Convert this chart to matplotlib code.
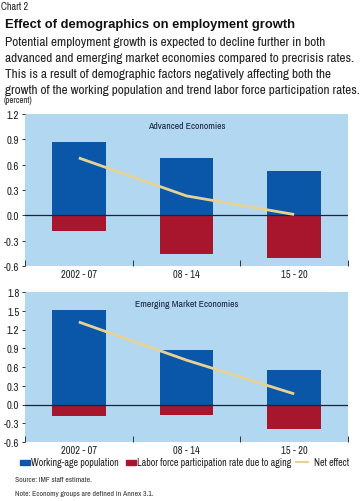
import matplotlib
matplotlib.use("Agg")
import matplotlib.pyplot as plt
from matplotlib.patches import Rectangle
from matplotlib.lines import Line2D
import numpy as np

BODY = ['Archivo Narrow', 'DejaVu Sans']
plt.rcParams['font.family'] = BODY

categories = ["2002 - 07", "08 - 14", "15 - 20"]
adv_working = [0.87, 0.68, 0.52]
adv_lfp = [-0.19, -0.46, -0.51]
adv_net = [0.68, 0.23, 0.01]
eme_working = [1.51, 0.87, 0.56]
eme_lfp = [-0.19, -0.16, -0.39]
eme_net = [1.32, 0.71, 0.17]
adv_yticks = [-0.6, -0.3, 0.0, 0.3, 0.6, 0.9, 1.2]
eme_yticks = [-0.6, -0.3, 0.0, 0.3, 0.6, 0.9, 1.2, 1.5, 1.8]

BG = "#b2d8f1"
BLUE = "#0a56a8"
RED = "#a8162e"
LINE = "#e6d394"
NAVY = "#1a2340"
TXT = "#222222"

W, H = 362, 502
fig = plt.figure(figsize=(W / 100, H / 100), dpi=100)
fig.patch.set_facecolor("white")

def px_axes(left, top, right, bottom):
    return fig.add_axes([left / W, 1 - bottom / H, (right - left) / W, (bottom - top) / H])

def panel(ax, working, lfp, net, yticks, title):
    x = np.arange(len(categories))
    ax.set_facecolor(BG)
    ax.bar(x, working, width=0.5, color=BLUE, zorder=2)
    ax.bar(x, lfp, width=0.5, color=RED, zorder=2)
    ax.axhline(0, color=NAVY, lw=0.9, zorder=3)
    ax.plot(x, net, color=LINE, lw=2.0, zorder=4, solid_capstyle="butt")
    ax.set_xlim(-0.5, 2.5)
    ax.set_ylim(yticks[0], yticks[-1])
    ax.set_yticks(yticks)
    ax.set_yticklabels([f"{t:.1f}" for t in yticks], fontsize=7.8, color=TXT)
    ax.set_xticks(x)
    ax.set_xticklabels(categories, fontsize=7.5, color=TXT)
    ax.tick_params(axis="x", length=0, pad=2.5)
    ax.set_xticks([-0.5, 0.5, 1.5, 2.5], minor=True)
    ax.tick_params(axis="x", which="minor", length=4, direction="in", color="#333333", width=0.7)
    ax.tick_params(axis="y", length=2.5, width=0.7, pad=1.5, color="#333333")
    for s in ax.spines.values():
        s.set_visible(False)
    ax.text(0.5, 0.955, title, transform=ax.transAxes, ha="center", va="top", fontsize=7, color="#1a2340")

ax1 = px_axes(25, 115, 348, 267)
panel(ax1, adv_working, adv_lfp, adv_net, adv_yticks, "Advanced Economies")
ax2 = px_axes(25, 293, 348, 443)
panel(ax2, eme_working, eme_lfp, eme_net, eme_yticks, "Emerging Market Economies")

def ftext(x, y, s, **kw):
    fig.text(x / W, 1 - y / H, s, **kw)

ftext(1, 10, "Chart 2", fontsize=7.2, va="baseline", color=TXT)
ftext(5, 28.3, "Effect of demographics on employment growth", fontsize=9.4, fontweight="bold",
      family=['Liberation Sans', 'DejaVu Sans'], va="baseline", color="#111111")
sub = ["Potential employment growth is expected to decline further in both",
       "advanced and emerging market economies compared to precrisis rates.",
       "This is a result of demographic factors negatively affecting both the",
       "growth of the working population and trend labor force participation rates."]
for i, line in enumerate(sub):
    ftext(5, 45.7 + 16 * i, line, fontsize=9.6, va="baseline", color=TXT)
ftext(4, 102.7, "(percent)", fontsize=6.3, va="baseline", color=TXT)

# legend
ly = 463
fig.add_artist(Rectangle((19.5 / W, 1 - (ly + 2.5) / H), 10 / W, 5 / H, transform=fig.transFigure, color=BLUE))
ftext(31, ly, "Working-age population", fontsize=7.2, va="center", color=TXT)
fig.add_artist(Rectangle((126 / W, 1 - (ly + 2.5) / H), 9.5 / W, 5 / H, transform=fig.transFigure, color=RED))
ftext(137, ly, "Labor force participation rate due to aging", fontsize=7.2, va="center", color=TXT)
fig.add_artist(Line2D([296 / W, 308 / W], [1 - ly / H, 1 - ly / H], transform=fig.transFigure, color=LINE, lw=1.5))
ftext(314, ly, "Net effect", fontsize=7.2, va="center", color=TXT)

ftext(15, 480, "Source: IMF staff estimate.", fontsize=5.6, va="center", color="#333333")
ftext(15, 494, "Note: Economy groups are defined in Annex 3.1.", fontsize=5.6, va="center", color="#333333")

fig.savefig("out.png", dpi=100, facecolor="white")
